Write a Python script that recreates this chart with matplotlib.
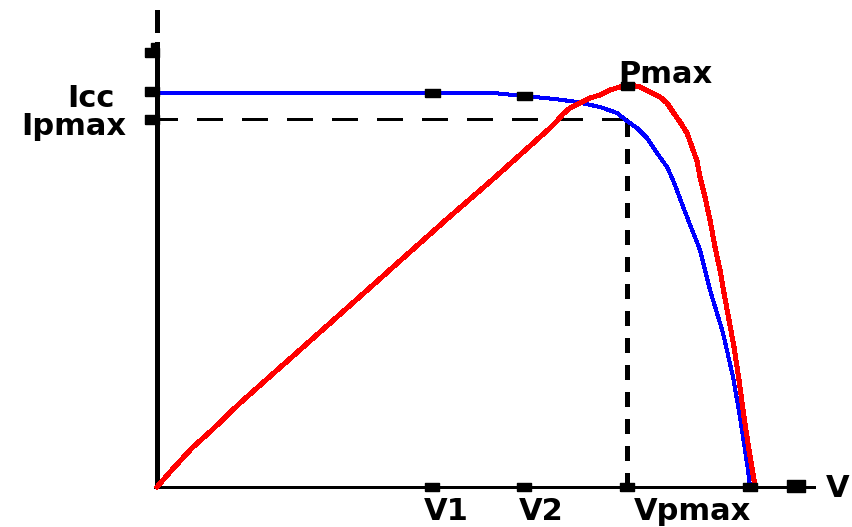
import matplotlib
matplotlib.use("Agg")
import matplotlib.pyplot as plt

plt.rcParams['lines.scale_dashes'] = False

# ---- data (units: picture offsets from the origin) ----
iv_v = [0, 275, 336, 367, 398, 420, 443, 460, 470, 480, 490, 500, 510, 516, 530,
        543, 553, 566, 576, 583, 588, 591, 593]
iv_i = [394, 394, 394, 391, 388, 385, 380, 374, 366, 359, 349, 334, 320, 307, 270,
        237, 197, 154, 110, 70, 37, 17, 0]

pv_v = [0, 13, 35, 55, 83, 171, 235, 290, 335, 393, 400, 406, 413, 423, 433, 443,
        453, 463, 473, 483, 493, 503, 510, 516, 523, 530, 535, 540, 543, 548, 553,
        558, 563, 567, 572, 577, 582, 587, 592, 597, 598]
pv_p = [0, 15, 39, 57, 84, 162, 219, 268, 307, 359, 366, 373, 379, 384, 389, 392,
        397, 400, 402, 400, 395, 390, 384, 375, 365, 354, 340, 326, 310, 290, 267,
        240, 217, 194, 167, 140, 107, 70, 37, 7, 0]

v_ticks = [275, 367, 470, 593]
v_tick_labels = ["V1", "V2", "Vpmax", ""]
y_ticks = [435, 396.5, 368]
y_tick_labels = ["", "Icc", "Ipmax"]
v1, i1 = 275, 394
v2, i2 = 367, 391
vpmax, ipmax = 470, 368.5
pmax_v, pmax_p = 470, 401

fig = plt.figure(figsize=(8.53, 5.27), dpi=100)
ax = fig.add_axes([0, 0, 1, 1])
ax.set_xlim(-157, 696)
ax.set_ylim(-40, 487)
ax.axis('off')

px = 0.72  # points per pixel

def rect(w, h):
    a = w / 2.0
    b = h / 2.0
    return [(-a, -b), (a, -b), (a, b), (-a, b), (-a, -b)]

# axes
ax.plot([0, 0], [0, 445], color='black', lw=5 * px, solid_capstyle='butt', antialiased=False)
ax.plot([0, 0], [455, 477], color='black', lw=5 * px, solid_capstyle='butt', antialiased=False)
ax.plot([-3, 658], [0, 0], color='black', lw=3 * px, solid_capstyle='butt', antialiased=False)

# curves
ax.plot(iv_v, iv_i, color='#0000ff', lw=3 * px, antialiased=False, zorder=3)
ax.plot(pv_v, pv_p, color='#ff0000', lw=4 * px, antialiased=False, zorder=4)

# dashed guide lines
ax.plot([vpmax, 0], [ipmax, ipmax], color='black', lw=3 * px,
        linestyle=(0, (25 * px, 19 * px)), dash_capstyle='butt', antialiased=False, zorder=2)
ax.plot([vpmax, vpmax], [0, ipmax], color='black', lw=5 * px,
        linestyle=(0, (15 * px, 13 * px)), dash_capstyle='butt', antialiased=False, zorder=2)

# tick markers
ax.plot(v_ticks, [0] * len(v_ticks), linestyle='none', marker=rect(14, 8),
        markersize=14 * px, color='black', zorder=5, antialiased=False)
ax.plot([639], [1], linestyle='none', marker=rect(18, 12),
        markersize=18 * px, color='black', zorder=5, antialiased=False)
ax.plot([-5] * len(y_ticks), y_ticks, linestyle='none', marker=rect(14, 9),
        markersize=14 * px, color='black', zorder=5, antialiased=False)
ax.plot([-4], [442], linestyle='none', marker='s', markersize=5 * px,
        color='black', zorder=5, antialiased=False)
ax.plot([v1, v2], [i1, i2], linestyle='none', marker=rect(15, 8),
        markersize=15 * px, color='black', zorder=5, antialiased=False)
ax.plot([pmax_v], [pmax_p], linestyle='none', marker=rect(13, 8),
        markersize=13 * px, color='black', zorder=6, antialiased=False)

# labels
fs = 22
tkw = dict(fontsize=fs, fontweight='bold', family='DejaVu Sans', color='black')
label_x = [289, 384, 535]
for x, lab in zip(label_x, v_tick_labels[:3]):
    ax.text(x, -33, lab, ha='center', va='baseline', **tkw)
ax.text(-66, 380, y_tick_labels[1], ha='center', va='baseline', **tkw)
ax.text(-83, 352, y_tick_labels[2], ha='center', va='baseline', **tkw)
ax.text(508, 404, "Pmax", ha='center', va='baseline', **tkw)
ax.text(681, -10, "V", ha='center', va='baseline', **tkw)

fig.savefig("out.png", dpi=100)
